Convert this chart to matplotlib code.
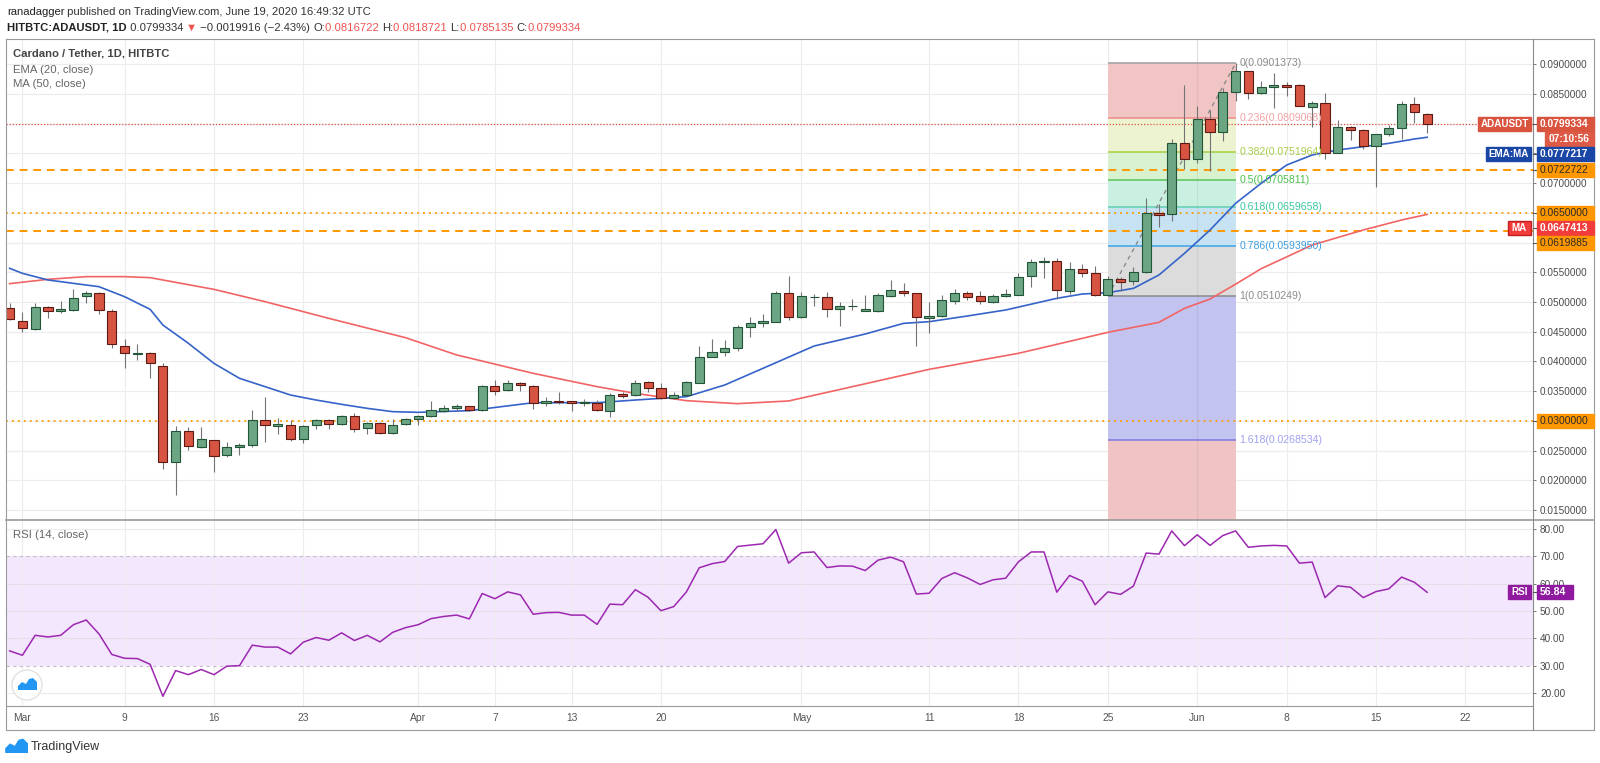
import matplotlib
matplotlib.use('Agg')
import matplotlib.pyplot as plt
import matplotlib.transforms as mtransforms
from matplotlib.patches import Rectangle, Circle, Polygon
from matplotlib.lines import Line2D
from matplotlib.text import Annotation
from matplotlib import font_manager
import numpy as np
import pandas as pd

installed = {f.name for f in font_manager.fontManager.ttflist}
NARROW = 'Liberation Sans Narrow' if 'Liberation Sans Narrow' in installed else 'Liberation Sans'
plt.rcParams['font.family'] = [NARROW, 'DejaVu Sans']
# narrow face is wider-set than TradingView's, so shrink a little when it is missing
K = 1.0 if NARROW == 'Liberation Sans Narrow' else 0.86

# ---------------- data (daily ADA/USDT, 29 Feb .. 19 Jun 2020) ----------------
dates = pd.date_range('2020-02-29', '2020-06-19', freq='D')

opens = [.04894, .04681, .04540, .04911, .04843, .04871, .05101, .05157, .04849, .04266,
         .04131, .04142, .03918, .02314, .02835, .02555, .02673, .02420, .02566, .02600,
         .03015, .02919, .02925, .02689, .02925, .03020, .02942, .03082, .02886, .02964,
         .02790, .02942, .03037, .03076, .03166, .03211, .03250, .03183, .03587, .03514,
         .03632, .03587, .03306, .03329, .03329, .03306, .03295, .03166, .03447, .03430,
         .03654, .03548, .03379, .03435, .03643, .04080, .04159, .04221, .04585, .04641,
         .04669, .05146, .04742, .05079, .05079, .04883, .04927, .04854, .04854, .05107,
         .05185, .05146, .04731, .04765, .05023, .05157, .05101, .05000, .05096, .05124,
         .05438, .05679, .05685, .05191, .05561, .05483, .05112, .05382, .05359, .05499,
         .06492, .06475, .07681, .07401, .08085, .07866, .08540, .08887, .08512, .08624,
         .08652, .08652, .08287, .08343, .07513, .07951, .07895, .07625, .07822, .07923,
         .08326, .0816722]
highs = [.04978, .04832, .04978, .04933, .05017, .05214, .05185, .05174, .04877, .04378,
         .04288, .04165, .03968, .02914, .02891, .02903, .02673, .02650, .02633, .03183,
         .03402, .03043, .03015, .02931, .03032, .03032, .03099, .03127, .02987, .02987,
         .03032, .03054, .03099, .03335, .03267, .03278, .03256, .03604, .03688, .03688,
         .03660, .03604, .03396, .03486, .03335, .03362, .03351, .03475, .03480, .03688,
         .03671, .03632, .03480, .03671, .04260, .04378, .04361, .04613, .04754, .04798,
         .05191, .05438, .05174, .05135, .05174, .05006, .05045, .05118, .05146, .05370,
         .05314, .05157, .05000, .05112, .05213, .05185, .05185, .05129, .05213, .05494,
         .05718, .05752, .05746, .05679, .05640, .05612, .05438, .05427, .05595, .06756,
         .06644, .07749, .08652, .08298, .08231, .08607, .09014, .08893, .08725, .08859,
         .08697, .08663, .08383, .08512, .08063, .07962, .07906, .07822, .07979, .08383,
         .08444, .0818721]
lows = [.04697, .04501, .04529, .04731, .04810, .04855, .04989, .04804, .04221, .03884,
        .04024, .03727, .02185, .01753, .02510, .02538, .02145, .02387, .02426, .02566,
        .02650, .02774, .02661, .02633, .02863, .02863, .02925, .02818, .02774, .02779,
        .02779, .02931, .02925, .03060, .03149, .03166, .03166, .03172, .03435, .03508,
        .03508, .03194, .03256, .03284, .03172, .03256, .03166, .03071, .03390, .03424,
        .03491, .03374, .03374, .03424, .03632, .04080, .04097, .04170, .04417, .04585,
        .04669, .04697, .04737, .04939, .04754, .04596, .04866, .04854, .04826, .05079,
        .05107, .04265, .04473, .04742, .04961, .05028, .04961, .04989, .05079, .05118,
        .05247, .05398, .05045, .05135, .05427, .05101, .05102, .05191, .05286, .05494,
        .06257, .06369, .07233, .07345, .07210, .07715, .08388, .08411, .08495, .08259,
        .08467, .08298, .07939, .07401, .07513, .07726, .07569, .06941, .07794, .07737,
        .08018, .0785135]
closes = [.04709, .04557, .04911, .04855, .04883, .05062, .05157, .04871, .04288, .04148,
          .04135, .03968, .02314, .02835, .02583, .02689, .02403, .02566, .02594, .03015,
          .02925, .02953, .02701, .02914, .03020, .02942, .03082, .02869, .02959, .02796,
          .02931, .03037, .03076, .03183, .03211, .03250, .03183, .03592, .03508, .03632,
          .03598, .03306, .03329, .03312, .03306, .03306, .03183, .03435, .03424, .03632,
          .03548, .03379, .03435, .03654, .04069, .04165, .04221, .04585, .04641, .04681,
          .05146, .04754, .05096, .05079, .04883, .04933, .04927, .04883, .05112, .05197,
          .05146, .04748, .04765, .05034, .05157, .05090, .05017, .05101, .05135, .05427,
          .05673, .05690, .05202, .05561, .05483, .05112, .05382, .05337, .05499, .06492,
          .06470, .07681, .07401, .08085, .07866, .08528, .08887, .08512, .08612, .08652,
          .08624, .08304, .08343, .07502, .07939, .07895, .07625, .07822, .07923, .08326,
          .08197, .0799334]
rsi = [35.4, 33.8, 41.1, 40.5, 41.1, 45.0, 46.7, 41.6, 34.1, 32.7,
       32.6, 30.5, 18.8, 28.2, 26.7, 28.6, 26.7, 29.8, 30.0, 37.5,
       36.8, 36.8, 34.3, 38.6, 40.3, 39.3, 42.0, 39.2, 41.1, 38.7,
       42.2, 43.9, 45.0, 47.2, 48.0, 48.5, 47.1, 56.4, 54.5, 57.0,
       55.9, 48.8, 49.4, 49.5, 48.5, 48.5, 45.1, 52.5, 52.3, 57.8,
       55.0, 50.1, 51.6, 57.0, 65.8, 67.3, 68.1, 73.6, 74.1, 74.6,
       79.8, 67.5, 71.3, 71.6, 65.9, 66.5, 66.4, 64.8, 68.6, 69.7,
       68.0, 56.2, 56.5, 61.9, 64.0, 62.1, 59.7, 61.4, 62.0, 68.0,
       71.6, 71.6, 56.9, 63.0, 60.9, 52.3, 57.0, 56.1, 59.1, 71.2,
       70.8, 79.3, 73.9, 77.9, 74.0, 77.6, 79.3, 73.3, 73.8, 74.0,
       73.8, 67.5, 67.9, 54.9, 59.2, 58.7, 54.9, 57.1, 58.1, 62.4,
       60.5, 56.84]

# EMA 20 / MA 50 (day = days since 1 Mar 2020)
ema_day = [-1, 0, 2, 4, 6, 8, 10, 11, 13, 15, 17, 19, 21, 23, 25, 27, 29, 31, 35, 40,
           45, 48, 52, 55, 59, 62, 66, 69, 71, 74, 77, 81, 83, 85, 87, 89, 91, 93, 95, 97,
           99, 101, 103, 105, 107, 109, 110]
ema_val = [.05567, .05483, .05371, .05314, .05258, .05090, .04877, .04613, .04305, .03968,
           .03716, .03576, .03435, .03351, .03278, .03211, .03155, .03144, .03172, .03306,
           .03306, .03351, .03407, .03604, .03979, .04260, .04462, .04641, .04669, .04765,
           .04866, .05062, .05135, .05157, .05230, .05455, .05819, .06212, .06660, .06997,
           .07305, .07474, .07558, .07614, .07670, .07743, .0777217]
ma_day = [-1, 2, 5, 8, 10, 15, 19, 24, 30, 34, 40, 45, 48, 52, 56, 60, 65, 71, 78, 83,
          85, 89, 91, 93, 95, 97, 101, 105, 108, 110]
ma_val = [.05309, .05382, .05427, .05427, .05410, .05213, .05006, .04725, .04400, .04110,
          .03800, .03576, .03463, .03340, .03290, .03335, .03576, .03867, .04137, .04389,
          .04490, .04658, .04894, .05050, .05300, .05560, .05959, .06212, .06380, .0647413]

# fibonacci retracement 25 May -> 4 Jun
fib_start, fib_end = 85, 95
fib_ratio = [0, 0.236, 0.382, 0.5, 0.618, 0.786, 1, 1.618]
fib_price = [0.0901373, 0.0809068, 0.0751964, 0.0705811, 0.0659658, 0.0593950, 0.0510249, 0.0268534]
fib_fill = ['#f2c5c5', '#edf3d0', '#d8f1cf', '#caf0e2', '#c6e2f3', '#dcdcdc', '#c3c3f0', '#f0c4c4']
fib_line = ['#9e9e9e', '#ef8a8a', '#a6cf3f', '#5cc35c', '#5fd0b0', '#3ba3e6', '#8a8a8a', '#7b7be0']
fib_text = ['#8c8c8c', '#f2a3a3', '#a8cc48', '#4cbf4c', '#3cc8a0', '#3c9ee0', '#8c8c8c', '#a0a0ee']

dashed_levels = [0.0722722, 0.0619885]
dotted_levels = [0.0650000, 0.0300000]
last_close = closes[-1]

tick_days = [0, 8, 15, 22, 31, 37, 43, 50, 61, 71, 78, 85, 92, 99, 106, 113]
tick_labels = ['Mar', '9', '16', '23', 'Apr', '7', '13', '20', 'May', '11', '18', '25',
               'Jun', '8', '15', '22']

# ---------------- layout ----------------
W, H = 1600, 763
fig = plt.figure(figsize=(16, 7.63), dpi=100)
ident = mtransforms.IdentityTransform()

L, R = 6, 1533
ax = fig.add_axes([L / W, 1 - 520 / H, (R - L) / W, (520 - 39) / H])
rax = fig.add_axes([L / W, 1 - 706 / H, (R - L) / W, (706 - 520) / H])

x = np.array((dates - pd.Timestamp('2020-03-01')).days)
xlim = (-1.284, 118.29)
for a in (ax, rax):
    a.set_xlim(*xlim)
    for s in a.spines.values():
        s.set_visible(False)
    a.set_xticks(tick_days)
    a.grid(True, axis='x', color='#ececec', lw=0.8)
    a.set_axisbelow(True)
    a.yaxis.tick_right()
    a.tick_params(axis='y', length=2.5, width=0.7, color='#777777', pad=2.5,
                  labelsize=8.4 * K, labelcolor='#4a4a4a')
ax.set_ylim(0.013322, 0.094257)
rax.set_ylim(15.24, 83.29)

ax.tick_params(axis='x', length=0, labelbottom=False)
rax.set_xticklabels(tick_labels)
rax.tick_params(axis='x', length=0, pad=5, labelsize=8.6 * K, labelcolor='#555555')

pticks = np.arange(0.015, 0.09001, 0.005)
ax.set_yticks(pticks)
ax.set_yticklabels(['%.7f' % v for v in pticks])
ax.grid(True, axis='y', color='#ececec', lw=0.8)

rticks = [20, 30, 40, 50, 60, 70, 80]
rax.set_yticks(rticks)
rax.set_yticklabels(['%.2f' % v for v in rticks])

# ---------------- price pane ----------------
o, h, l, c = map(np.array, (opens, highs, lows, closes))
up = c >= o
body_col = np.where(up, '#6ba583', '#d75442')
edge_col = np.where(up, '#225437', '#5b1a13')

# fib zones
bottoms = fib_price[1:] + [ax.get_ylim()[0]]
for top, bot, fc in zip(fib_price, bottoms, fib_fill):
    ax.fill_between([fib_start, fib_end], bot, top, color=fc, lw=0, zorder=1)
for d in tick_days:
    if fib_start < d < fib_end:
        ax.axvline(d, color='#000000', alpha=0.06, lw=0.8, zorder=1.2)
for r, p, lc, tc in zip(fib_ratio, fib_price, fib_line, fib_text):
    ax.hlines(p, fib_start, fib_end, color=lc, lw=1.1, zorder=2)
    ax.text(fib_end + 0.3, p, '%g(%.7f)' % (r, p), color=tc, fontsize=8.8 * K,
            va='center', ha='left', zorder=6)
ax.plot([fib_start, fib_end], [fib_price[-2], fib_price[0]], color='#8a8a8a',
        lw=1, ls=(0, (3, 3)), zorder=3)

# horizontal levels
for p in dashed_levels:
    ax.axhline(p, color='#ff9800', lw=1.4, ls=(0, (4, 3)), zorder=3)
for p in dotted_levels:
    ax.axhline(p, color='#ff9800', lw=1.3, ls=(0, (1, 2.3)), zorder=3)
ax.axhline(last_close, color='#e0533f', lw=0.9, ls=(0, (1, 1.5)), zorder=3)

# moving averages
ax.plot(ma_day, ma_val, color='#f26464', lw=1.2, zorder=3.5)
ax.plot(ema_day, ema_val, color='#3563c8', lw=1.2, zorder=3.5)

# candles
ax.vlines(x, l, h, color='#737375', lw=0.8, zorder=4)
ax.bar(x, np.maximum(np.abs(c - o), 0.00004), bottom=np.minimum(o, c), width=0.72,
       color=body_col, edgecolor=edge_col, linewidth=0.8, zorder=5)

# ---------------- RSI pane ----------------
rax.axhspan(30, 70, color='#f3e7fd', zorder=0, lw=0)
for v in (20, 40, 50, 60, 80):
    rax.axhline(v, color='#e4dce8' if 30 < v < 70 else '#ececec', lw=0.8, zorder=0.5)
for v in (30, 70):
    rax.axhline(v, color='#c7bccc', lw=0.8, ls=(0, (3, 3)), zorder=0.6)
rax.plot(x, rsi, color='#9c27b0', lw=1.1, zorder=3)


# ---------------- frame ----------------
def hline(y, x0, x1, color='#9a9a9a', lw=0.8):
    fig.add_artist(Line2D([x0, x1], [H - y, H - y], transform=ident, color=color, lw=lw))


def vline(xp, y0, y1, color='#9a9a9a', lw=0.8):
    fig.add_artist(Line2D([xp, xp], [H - y0, H - y1], transform=ident, color=color, lw=lw))


hline(39, L, 1594)
hline(520, L, 1594, lw=1.2)
hline(706, L, R)
hline(730, L, 1594)
vline(L, 39, 730)
vline(R, 39, 730, color='#8a8a8a')
vline(1594, 39, 730)


# ---------------- axis labels / tags ----------------
def img_y(axis, val):
    return H - axis.transData.transform((0, val))[1]


def box(yc, x0, x1, fc, text, tc='white', bold=True, ec=None, ha='left', size=8.6, zorder=20):
    bh = 14
    fig.add_artist(Rectangle((x0, H - yc - bh / 2), x1 - x0, bh, transform=ident,
                             fc=fc, ec=ec or fc, lw=1, zorder=zorder))
    tx = x0 + 3 if ha == 'left' else (x0 + x1) / 2
    fig.text(tx, H - yc, text, transform=ident, ha=ha, va='center', color=tc,
             fontsize=size * K, fontweight='bold' if bold else 'normal', zorder=zorder + 1)


price_tags = [
    (last_close, '%.7f' % last_close, '#d9543f', 'white', True, ('ADAUSDT', 1478)),
    (last_close, '07:10:56', '#dc5a46', 'white', True, None),
    (ema_val[-1], '%.7f' % ema_val[-1], '#1a47a6', 'white', True, ('EMA:MA', 1486)),
    (dashed_levels[0], '%.7f' % dashed_levels[0], '#ff9800', '#2a2a2a', False, None),
    (dotted_levels[0], '%.7f' % dotted_levels[0], '#ff9800', '#2a2a2a', False, None),
    (ma_val[-1], '%.7f' % ma_val[-1], '#f23c3c', 'white', True, ('MA', 1508)),
    (dashed_levels[1], '%.7f' % dashed_levels[1], '#ff9800', '#2a2a2a', False, None),
    (dotted_levels[1], '%.7f' % dotted_levels[1], '#ff9800', '#2a2a2a', False, None),
]
cur = -1e9
for val, txt, fc, tc, bold, tag in price_tags:
    yc = max(img_y(ax, val), cur + 15)
    cur = yc
    if txt == '07:10:56':
        box(yc, 1545, 1594, fc, txt, tc, bold, ha='center')
        continue
    box(yc, 1537, 1594, fc, txt, tc, bold)
    hline(yc, 1533, 1537, color='#555555')
    if tag:
        ec = '#c41e1e' if tag[0] == 'MA' else None
        box(yc, tag[1], 1531, fc, tag[0], 'white', True, ec=ec, ha='center', size=8.3)

ry = img_y(rax, rsi[-1])
box(ry, 1537, 1573, '#8f1aa0', '%.2f' % rsi[-1], 'white', True, size=8.8)
box(ry, 1508, 1531, '#8f1aa0', 'RSI', 'white', True, ha='center', size=8.3)
hline(ry, 1533, 1537, color='#555555')

# ---------------- texts ----------------
fig.text(13, H - 54, 'Cardano / Tether, 1D, HITBTC', transform=ident, va='center',
         fontsize=9.4 * K, color='#444444', fontweight='bold')
fig.text(13, H - 70, 'EMA (20, close)', transform=ident, va='center', fontsize=9.5 * K, color='#666666')
fig.text(13, H - 84, 'MA (50, close)', transform=ident, va='center', fontsize=9.5 * K, color='#666666')
fig.text(13, H - 535, 'RSI (14, close)', transform=ident, va='center', fontsize=9.5 * K, color='#666666')


def chain(x0, y0, pieces, size):
    prev = fig.text(x0, H - y0, pieces[0][0], transform=ident, va='center', ha='left',
                    fontsize=size, color=pieces[0][1], fontweight=pieces[0][2])
    for s, col, wt in pieces[1:]:
        a = Annotation(s, xy=(1, 0.5), xycoords=prev, va='center', ha='left',
                       fontsize=size, color=col, fontweight=wt,
                       family=[NARROW, 'DejaVu Sans'])
        fig.add_artist(a)
        prev = a


chain(7, 12, [('ranadagger', '#222222', 'normal'),
              (' published on TradingView.com, June 19, 2020 16:49:32 UTC', '#333333', 'normal')], 9.4 * K)
red = '#ef5350'
chain(7, 28, [('HITBTC:ADAUSDT, 1D', '#222222', 'bold'),
              (' %.7f ' % last_close, '#333333', 'normal'),
              ('▼', red, 'normal'),
              (' \u22120.0019916 (\u22122.43%) ', '#333333', 'normal'),
              ('O:', '#333333', 'normal'), ('%.7f ' % opens[-1], red, 'normal'),
              ('H:', '#333333', 'normal'), ('%.7f ' % highs[-1], red, 'normal'),
              ('L:', '#333333', 'normal'), ('%.7f ' % lows[-1], red, 'normal'),
              ('C:', '#333333', 'normal'), ('%.7f' % closes[-1], red, 'normal')], 9.4 * K)

# watermark in RSI pane
fig.add_artist(Circle((27, H - 685), 15, transform=ident, fc='white', ec='#e2e2e2', lw=1))
logo = np.array([(-9, 5), (-9, 1), (-5, -3), (-1, -1), (2, -6), (6, -7), (10, -3), (10, 5)], float)
fig.add_artist(Polygon(np.c_[27 + logo[:, 0], H - 685 - logo[:, 1]], transform=ident,
                       fc='#2196f3', ec='none'))
# footer logo + name
fig.add_artist(Polygon(np.c_[16 + 1.2 * logo[:, 0], H - 747 - 1.2 * logo[:, 1]], transform=ident,
                       fc='#2196f3', ec='none'))
fig.text(31, H - 747, 'TradingView', transform=ident, va='center', fontsize=10.5 * K, color='#333333')

fig.savefig('out.png', dpi=100)
